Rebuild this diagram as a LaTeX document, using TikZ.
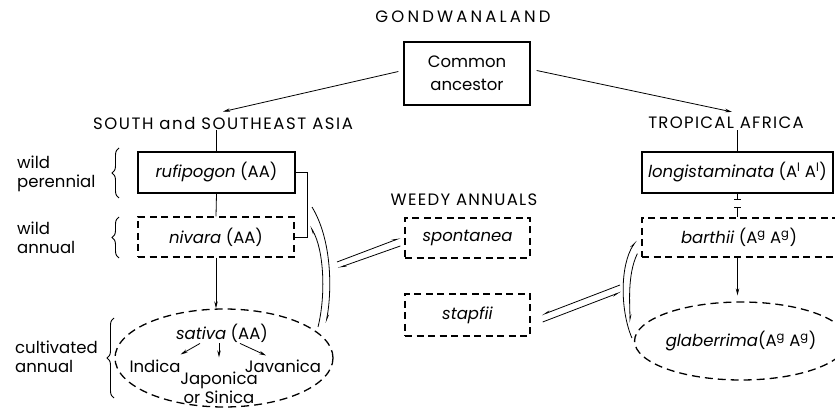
\documentclass[tikz,border=0pt]{standalone}
\usepackage{fontspec}
\setmainfont{Poppins}
\usetikzlibrary{arrows.meta,shapes.geometric,decorations.pathreplacing}
\newcommand{\lsp}[1]{\addfontfeature{LetterSpace=#1}}
\begin{document}
\begin{tikzpicture}[x=1pt,y=-1pt,
  every node/.style={font=\fontsize{16.5}{19}\selectfont},
  lbl/.style={inner sep=1pt},
  sbox/.style={draw, line width=1.3pt, inner sep=0pt},
  dbox/.style={draw, line width=1.3pt, dash pattern=on 7pt off 4.5pt, inner sep=0pt},
  dell/.style={draw, ellipse, line width=1.3pt, dash pattern=on 8pt off 5pt, inner sep=0pt},
  conn/.style={line width=0.8pt},
  arr/.style={conn, -{Stealth[length=7pt,width=3.5pt]}},
  harp/.style={conn, -{Stealth[harpoon,length=7pt,width=3pt]}},
  harps/.style={conn, -{Stealth[harpoon,swap,length=7pt,width=3pt]}},
  brc/.style={decorate, decoration={brace, amplitude=7pt}, line width=0.9pt},
]
\useasboundingbox (0,0) rectangle (835,411);

% top
\node[lbl] (gond) at (463,17) {\lsp{19}GONDWANALAND};
\node[sbox, minimum width=126pt, minimum height=63pt, align=center,
      font=\fontsize{16.5}{23}\selectfont] (anc) at (467,73.5) {Common\\ancestor};
\node[lbl] (ssea) at (223,123) {\lsp{9.5}SOUTH and SOUTHEAST ASIA};
\node[lbl] (trop) at (726,123) {\lsp{8}TROPICAL AFRICA};
\draw[arr] ([xshift=-5pt,yshift=2pt]anc.west) -- ([yshift=4pt]ssea.north);
\draw[arr] ([xshift=6pt,yshift=3pt]anc.east) -- ([xshift=6pt,yshift=4pt]trop.north);

% left column
\node[sbox, minimum width=157pt, minimum height=41pt] (ruf) at (216.5,172.5) {\textit{rufipogon} (AA)};
\node[dbox, minimum width=156pt, minimum height=40pt] (niv) at (216,237) {\textit{nivara} (AA)};
\node[dell, minimum width=218pt, minimum height=98pt] (sat) at (224,358) {};
\draw[conn] (ruf.north) -- (ruf.north |- ssea.south);
\draw[conn] (ruf.south) -- (niv.north);
\draw[arr] (niv.south) -- (niv.south |- sat.north);
\draw[conn] (ruf.east) -- ++(12,0) |- (niv.east);

\node[lbl] (sattxt) at (222,333) {\textit{sativa} (AA)};
\node[lbl] (ind) at (155,366) {Indica};
\node[lbl] (jav) at (283,366) {Javanica};
\node[lbl] (jap) at (219,380) {Japonica};
\node[lbl] (sin) at (219,397) {or Sinica};
\draw[arr] ([xshift=-22pt]sattxt.south) -- ([xshift=-1pt,yshift=4pt]ind.north east);
\draw[arr] (sattxt.south -| jap.north) -- ([yshift=13pt]jap.north);
\draw[arr] ([xshift=18pt]sattxt.south) -- ([xshift=-17pt,yshift=3pt]jav.north);

% left labels and braces
\node[lbl, anchor=west, align=left] (wp) at (16,174) {wild\\perennial};
\node[lbl, anchor=west, align=left] (wa) at (16,238) {wild\\annual};
\node[lbl, anchor=west, align=left] (ca) at (14,357) {cultivated\\annual};
\draw[brc] (119,198) -- (119,148);
\draw[brc] (119,258) -- (119,217);
\draw[brc] (114,398) -- (114,318);

% nivara <-> sativa curves
\coordinate (c1) at (312,207);
\coordinate (c2) at (326,323);
\coordinate (c3) at (318,327);
\coordinate (c4) at (310,226);
\draw[harp] (c1) .. controls (332,240) and (332,290) .. (c2);
\draw[harp] (c3) .. controls (326,295) and (324,250) .. (c4);

% weedy annuals
\node[lbl] (weedy) at (464,200) {\lsp{8}WEEDY ANNUALS};
\node[dbox, minimum width=125pt, minimum height=40pt] (spo) at (467.5,238) {\textit{spontanea}};
\node[dbox, minimum width=125pt, minimum height=42pt] (sta) at (467.5,315) {\textit{stapfii}};
\coordinate (la) at (337,262);
\coordinate (lb) at (338,268);
\draw[harp] (la) -- ([xshift=-4pt]spo.west);
\draw[harp] ([xshift=-4pt,yshift=-8pt]spo.west) -- (lb);
\coordinate (ra) at (620,285);
\coordinate (rb) at (621,292);
\draw[harps] (ra) -- ([xshift=11pt]sta.east);
\draw[harps] ([xshift=12pt,yshift=-7pt]sta.east) -- (rb);

% right column
\node[sbox, minimum width=191pt, minimum height=41pt] (lon) at (737.5,172.5) {\textit{longistaminata} (A\textsuperscript{l} A\textsuperscript{l})};
\node[dbox, minimum width=194pt, minimum height=39pt] (bar) at (739,237.5) {\textit{barthii} (A\textsuperscript{g} A\textsuperscript{g})};
\node[dell, minimum width=188pt, minimum height=78pt] (gla) at (741,341) {\textit{glaberrima}(A\textsuperscript{g} A\textsuperscript{g})};
\draw[conn] (lon.north) -- (lon.north |- trop.south);
\draw[conn] (lon.south) -- ++(0,6) ++(-3.5,0) -- ++(7,0);
\draw[conn] ([xshift=-3.5pt,yshift=10pt]lon.south |- bar.north) -- ++(7,0) ++(-3.5,0) -- (lon.south |- bar.north);
\draw[arr, shorten >=6pt] (lon.south |- bar.south) -- (lon.south |- gla.north);
\draw[harp] ([xshift=-2pt,yshift=3pt]gla.west) .. controls (620,310) and (620,265) .. ([xshift=-5pt,yshift=-3pt]bar.west);
\draw[harp] ([xshift=-4pt,yshift=4pt]bar.south west) .. controls (627,275) and (630,305) .. ([xshift=-4pt,yshift=18pt]gla.west);
\end{tikzpicture}
\end{document}
